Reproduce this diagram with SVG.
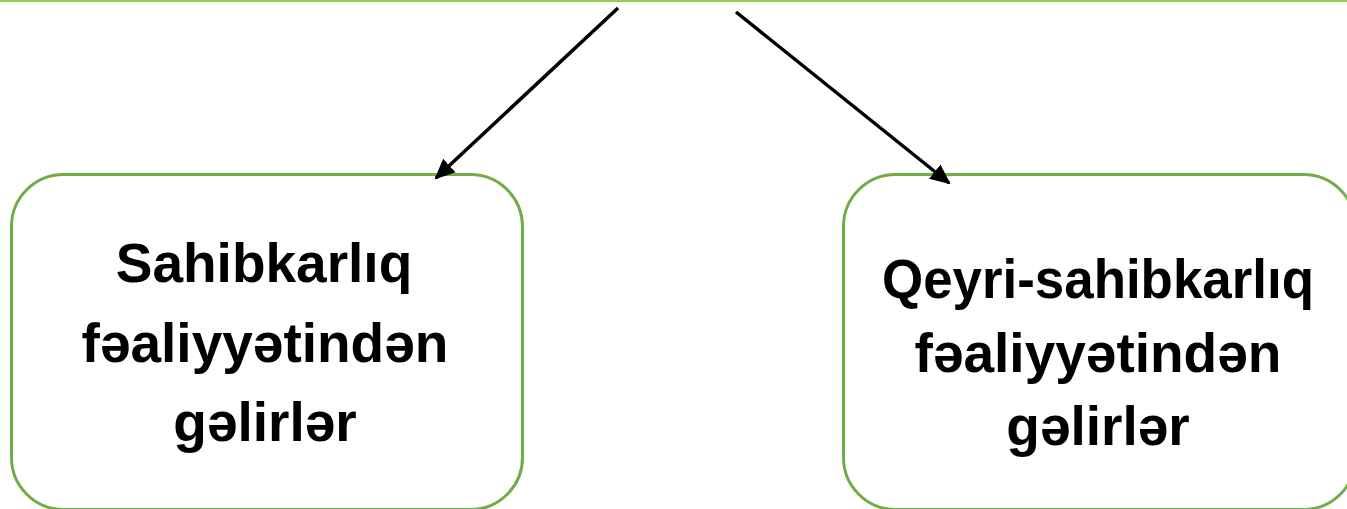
<svg xmlns="http://www.w3.org/2000/svg" width="1347" height="509" viewBox="0 0 1347 509">
  <style>
    .box { fill: #ffffff; stroke: #70AD47; stroke-width: 3; }
    .lbl { font-family: "Liberation Sans", Arial, sans-serif; font-weight: bold; font-size: 55px; fill: #000000; text-anchor: middle; }
    .conn { stroke: #000000; stroke-width: 3.5; fill: none; marker-end: url(#arrow); }
  </style>
  <defs>
    <marker id="arrow" viewBox="0 0 10 10" refX="9" refY="5" markerWidth="5.8" markerHeight="5.8" markerUnits="strokeWidth" orient="auto">
      <path d="M0,0.5 L10,5 L0,9.5 z" fill="#000000"/>
    </marker>
  </defs>
  <rect width="1347" height="509" fill="#ffffff"/>
  <line x1="0" y1="1" x2="1347" y2="1" stroke="#92D050" stroke-width="2"/>
  <g id="node-left">
    <rect class="box" x="11.5" y="174.5" width="511" height="335" rx="52" ry="52"/>
    <text class="lbl" x="264" y="282">Sahibkarlıq</text>
    <text class="lbl" x="265" y="362">fəaliyyətindən</text>
    <text class="lbl" x="265" y="441">gəlirlər</text>
  </g>
  <g id="node-right">
    <rect class="box" x="843.5" y="174.5" width="512" height="335" rx="52" ry="52"/>
    <text class="lbl" x="1098" y="298" textLength="432" lengthAdjust="spacingAndGlyphs">Qeyri-sahibkarlıq</text>
    <text class="lbl" x="1098" y="372">fəaliyyətindən</text>
    <text class="lbl" x="1098" y="445">gəlirlər</text>
  </g>
  <g id="connectors">
    <line class="conn" x1="618" y1="8" x2="436" y2="178"/>
    <line class="conn" x1="736" y1="12" x2="949" y2="183"/>
  </g>
</svg>
